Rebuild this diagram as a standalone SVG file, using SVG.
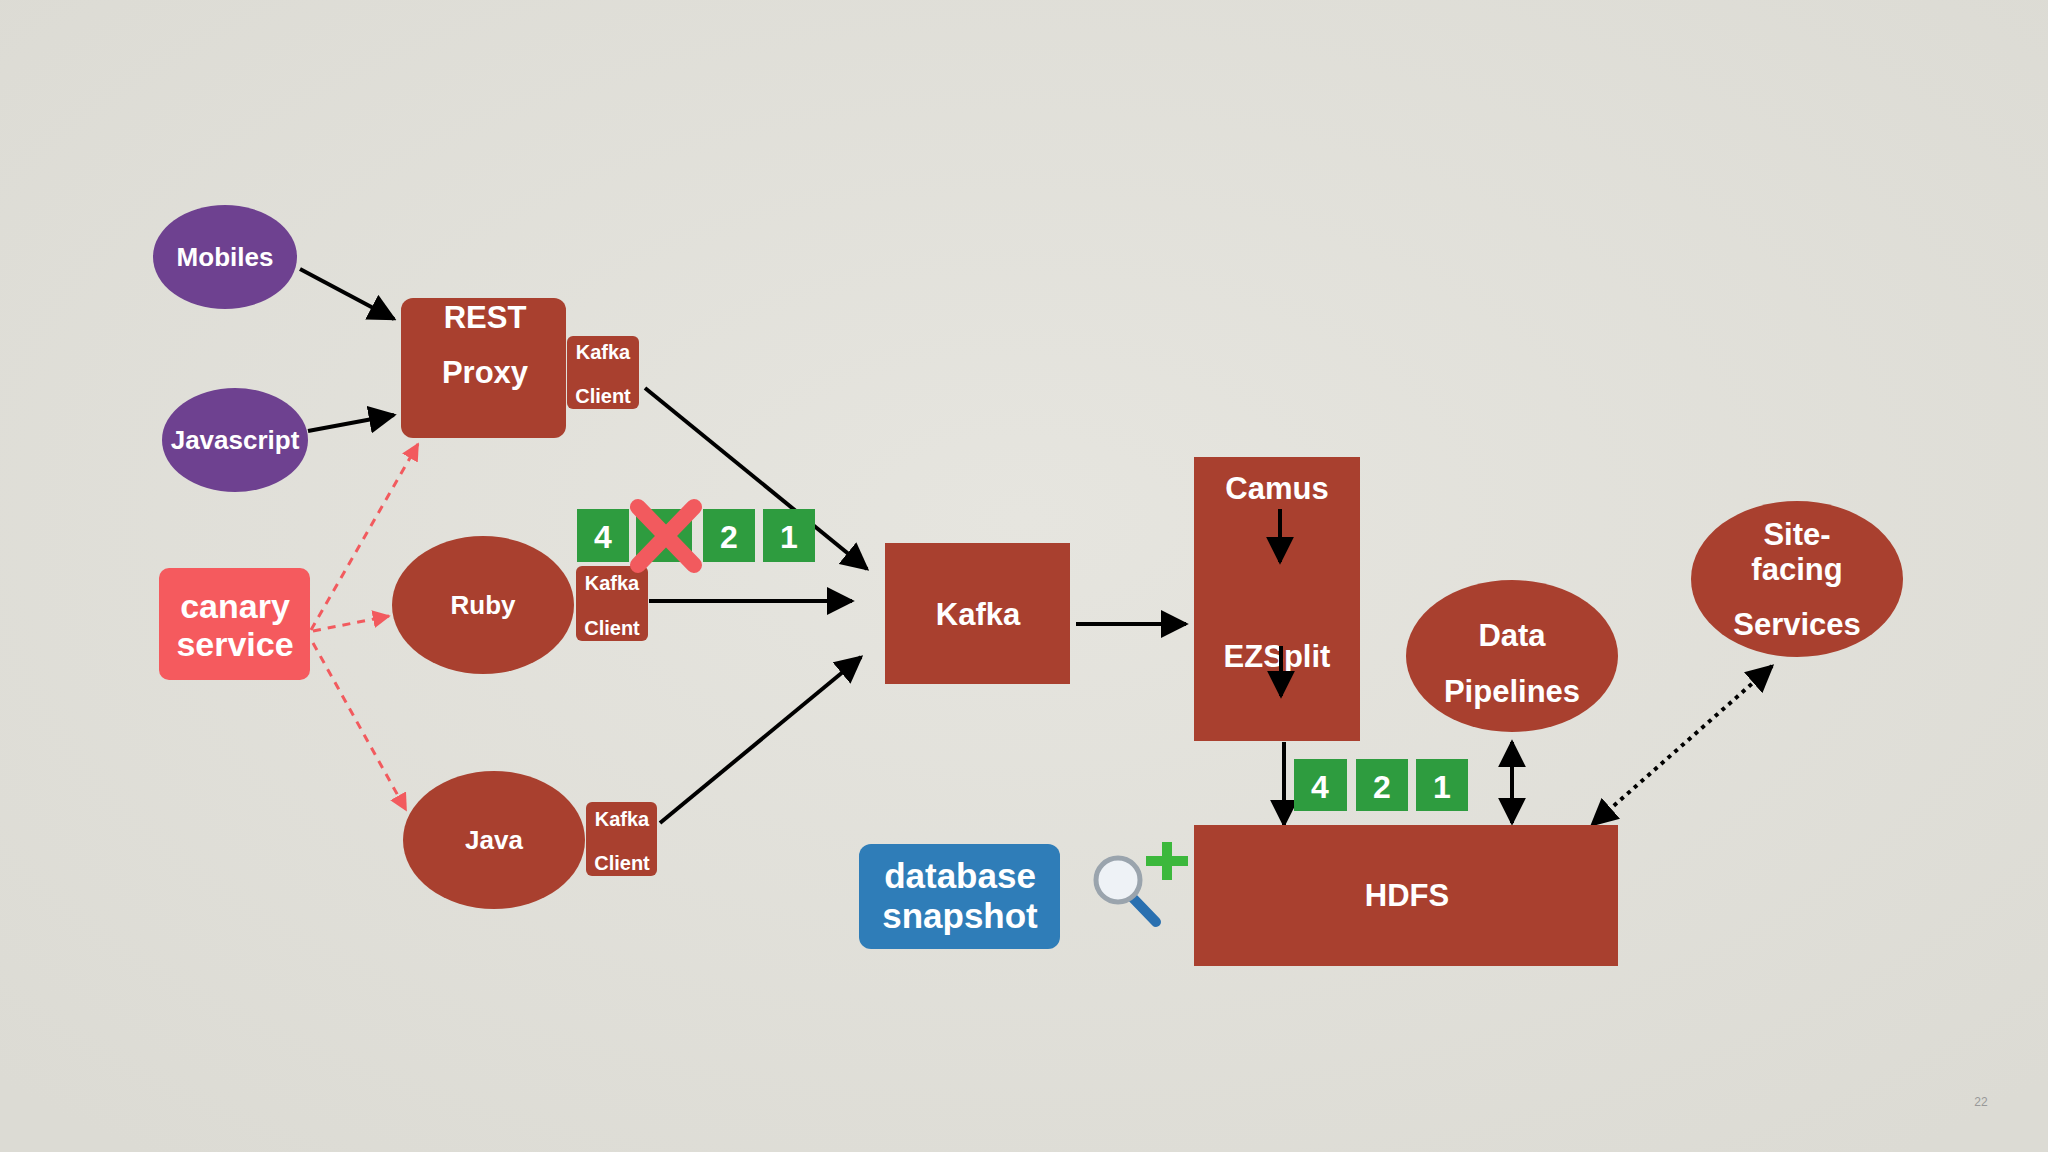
<svg xmlns="http://www.w3.org/2000/svg" width="2048" height="1152" viewBox="0 0 2048 1152">
<defs>
<marker id="ah" viewBox="0 0 10 10" refX="9" refY="5" markerWidth="7" markerHeight="7" orient="auto-start-reverse"><path d="M0,0L10,5L0,10z" fill="#000"/></marker>
<marker id="ahr" viewBox="0 0 10 10" refX="9" refY="5" markerWidth="6" markerHeight="6" orient="auto"><path d="M0,0L10,5L0,10z" fill="#f25a5e"/></marker>
<radialGradient id="bg" cx="0.5" cy="0.45" r="0.7"><stop offset="0" stop-color="#e6e5df"/><stop offset="1" stop-color="#dcdbd4"/></radialGradient>
</defs>
<style>
text{font-family:"Liberation Sans",Arial,sans-serif;font-weight:bold;fill:#fff;text-anchor:middle}
.red{fill:#a9402f}
.pur{fill:#6e4190}
.grn{fill:#2e9c3f}
.c{stroke:#000;stroke-width:4;fill:none}
.d{stroke:#f25a5e;stroke-width:3;stroke-dasharray:8 7;fill:none}
</style>
<rect width="2048" height="1152" fill="url(#bg)"/>
<g id="connectors">
<line class="c" x1="300" y1="269" x2="394" y2="319" marker-end="url(#ah)"/>
<line class="c" x1="308" y1="431" x2="394" y2="415" marker-end="url(#ah)"/>
<line class="c" x1="645" y1="388" x2="867" y2="569" marker-end="url(#ah)"/>
<line class="c" x1="649" y1="601" x2="852" y2="601" marker-end="url(#ah)"/>
<line class="c" x1="660" y1="823" x2="861" y2="657" marker-end="url(#ah)"/>
<line class="c" x1="1076" y1="624" x2="1186" y2="624" marker-end="url(#ah)"/>
<line class="c" x1="1284" y1="742" x2="1284" y2="825" marker-end="url(#ah)"/>
<line class="c" x1="1512" y1="742" x2="1512" y2="823" marker-start="url(#ah)" marker-end="url(#ah)"/>
<line class="c" x1="1772" y1="666" x2="1592" y2="825" stroke-dasharray="4 5" marker-start="url(#ah)" marker-end="url(#ah)"/>
<line class="d" x1="311" y1="630" x2="418" y2="444" marker-end="url(#ahr)"/>
<line class="d" x1="313" y1="631" x2="389" y2="616" marker-end="url(#ahr)"/>
<line class="d" x1="313" y1="643" x2="406" y2="810" marker-end="url(#ahr)"/>
</g>
<g id="mobiles"><ellipse class="pur" cx="225" cy="257" rx="72" ry="52"/><text x="225" y="266" font-size="26">Mobiles</text></g>
<g id="javascript"><ellipse class="pur" cx="235" cy="440" rx="73" ry="52"/><text x="235" y="449" font-size="26">Javascript</text></g>
<g id="rest"><rect class="red" x="401" y="298" width="165" height="140" rx="12"/><text x="485" y="328" font-size="31">REST</text><text x="485" y="383" font-size="31">Proxy</text></g>
<g id="rest-client"><rect class="red" x="567" y="336" width="72" height="73" rx="6"/><text x="603" y="359" font-size="20">Kafka</text><text x="603" y="403" font-size="20">Client</text></g>
<g id="canary"><rect x="159" y="568" width="151" height="112" rx="10" fill="#f55a5e"/><text x="235" y="618" font-size="34">canary</text><text x="235" y="656" font-size="34">service</text></g>
<g id="ruby"><ellipse class="red" cx="483" cy="605" rx="91" ry="69"/><text x="483" y="614" font-size="26">Ruby</text></g>
<g id="ruby-client"><rect class="red" x="576" y="566" width="72" height="75" rx="6"/><text x="612" y="590" font-size="20">Kafka</text><text x="612" y="635" font-size="20">Client</text></g>
<g id="java"><ellipse class="red" cx="494" cy="840" rx="91" ry="69"/><text x="494" y="849" font-size="26">Java</text></g>
<g id="java-client"><rect class="red" x="586" y="802" width="71" height="74" rx="6"/><text x="622" y="826" font-size="20">Kafka</text><text x="622" y="870" font-size="20">Client</text></g>
<g id="msgs-top">
<rect class="grn" x="577" y="509" width="52" height="53"/><text x="603" y="548" font-size="32">4</text>
<rect class="grn" x="636" y="509" width="56" height="53"/>
<rect class="grn" x="703" y="509" width="52" height="53"/><text x="729" y="548" font-size="32">2</text>
<rect class="grn" x="763" y="509" width="52" height="53"/><text x="789" y="548" font-size="32">1</text>
<path d="M638,507L694,565M694,507L638,565" stroke="#f25a5e" stroke-width="16" stroke-linecap="round"/>
</g>
<g id="kafka"><rect class="red" x="885" y="543" width="185" height="141"/><text x="978" y="625" font-size="31">Kafka</text></g>
<g id="camus"><rect class="red" x="1194" y="457" width="166" height="284"/><text x="1277" y="499" font-size="31">Camus</text><text x="1277" y="667" font-size="31">EZSplit</text>
<line class="c" x1="1280" y1="509" x2="1280" y2="562" marker-end="url(#ah)"/>
<line class="c" x1="1281" y1="646" x2="1281" y2="696" marker-end="url(#ah)"/></g>
<g id="msgs-bottom">
<rect class="grn" x="1294" y="759" width="53" height="52"/><text x="1320" y="798" font-size="32">4</text>
<rect class="grn" x="1356" y="759" width="52" height="52"/><text x="1382" y="798" font-size="32">2</text>
<rect class="grn" x="1416" y="759" width="52" height="52"/><text x="1442" y="798" font-size="32">1</text>
</g>
<g id="hdfs"><rect class="red" x="1194" y="825" width="424" height="141"/><text x="1407" y="906" font-size="31">HDFS</text></g>
<g id="pipelines"><ellipse class="red" cx="1512" cy="656" rx="106" ry="76"/><text x="1512" y="646" font-size="31">Data</text><text x="1512" y="702" font-size="31">Pipelines</text></g>
<g id="site"><ellipse class="red" cx="1797" cy="579" rx="106" ry="78"/><text x="1797" y="545" font-size="31">Site-</text><text x="1797" y="580" font-size="31">facing</text><text x="1797" y="635" font-size="31">Services</text></g>
<g id="db"><rect x="859" y="844" width="201" height="105" rx="12" fill="#2f7db8"/><text x="960" y="888" font-size="35">database</text><text x="960" y="928" font-size="35">snapshot</text></g>
<g id="icon">
<line x1="1130" y1="895" x2="1156" y2="922" stroke="#2a70b0" stroke-width="10" stroke-linecap="round"/>
<circle cx="1118" cy="880" r="22" fill="#eef2f6" stroke="#9aa4ad" stroke-width="5"/>
<path d="M1146,856h16v-14h10v14h16v10h-16v14h-10v-14h-16z" fill="#3cb83c"/>
</g>
<text x="1981" y="1106" font-size="12" style="fill:#999;font-weight:normal">22</text>
</svg>
